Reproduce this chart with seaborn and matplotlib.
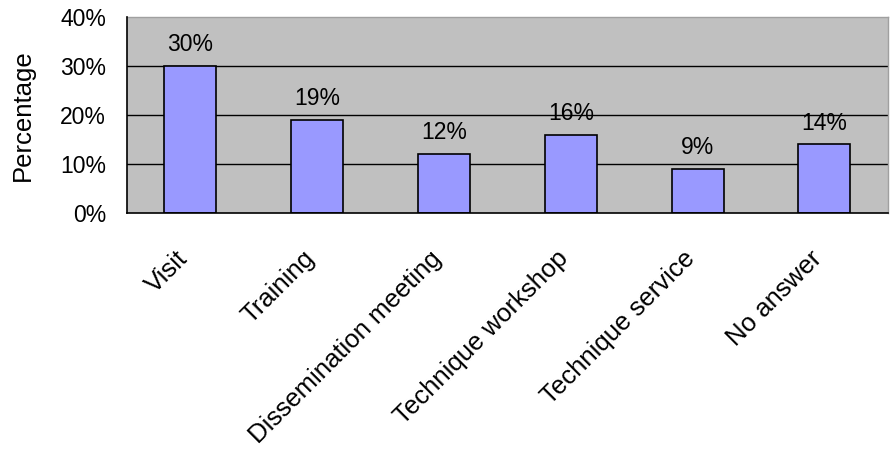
import matplotlib
matplotlib.use("Agg")
import matplotlib.pyplot as plt
import matplotlib.transforms as mtransforms
import seaborn as sns
import pandas as pd
from matplotlib.ticker import FixedLocator

categories = ["Visit", "Training", "Dissemination meeting",
              "Technique workshop", "Technique service", "No answer"]
percentages = [30, 19, 12, 16, 9, 14]
y_ticks = [0, 10, 20, 30, 40]
y_tick_labels = ["0%", "10%", "20%", "30%", "40%"]

df = pd.DataFrame({"category": categories, "pct": percentages})

sns.set_style("white")
plt.rcParams["font.family"] = ["Liberation Sans", "DejaVu Sans"]
plt.rcParams["text.color"] = "black"
plt.rcParams["axes.labelcolor"] = "black"
plt.rcParams["xtick.color"] = "black"
plt.rcParams["ytick.color"] = "black"

fig = plt.figure(figsize=(8.91, 4.55), dpi=100)
ax = fig.add_axes([0.1425, 0.532, 0.854, 0.4305])
ax.set_facecolor("#C0C0C0")

sns.barplot(data=df, x="category", y="pct", color="#9999FF", saturation=1,
            width=0.41, edgecolor="black", linewidth=1.2, ax=ax, zorder=3)

ax.set_ylim(0, 40)
ax.set_xlim(-0.5, len(categories) - 0.5)
ax.set_yticks(y_ticks)
ax.set_yticklabels(y_tick_labels, fontsize=16.5)
for y in y_ticks[1:-1]:
    ax.axhline(y, color="black", linewidth=1, zorder=1)

for i, v in enumerate(percentages):
    ax.annotate(f"{v}%", xy=(i, v), xytext=(0, 7), textcoords="offset points",
                ha="center", va="bottom", fontsize=16.5, zorder=4)

ax.set_xticks(range(len(categories)))
ax.set_xticklabels(categories, rotation=45, ha="right", rotation_mode="anchor",
                   fontsize=18.5)
ax.tick_params(axis="x", which="major", length=0, pad=24)
# nudge the slanted category names a little to the left of their slots
shift = mtransforms.ScaledTranslation(-15 / 100, 0, fig.dpi_scale_trans)
for lbl in ax.get_xticklabels():
    lbl.set_transform(lbl.get_transform() + shift)
ax.xaxis.set_minor_locator(FixedLocator([k + 0.5 for k in range(len(categories) - 1)]))
ax.tick_params(axis="x", which="minor", direction="in", length=5, width=1, color="black")
ax.tick_params(axis="y", length=0, pad=15)

ax.set_xlabel("")
ax.set_ylabel("Percentage", fontsize=18.5, labelpad=18)

for side in ("left", "bottom"):
    ax.spines[side].set_color("black")
    ax.spines[side].set_linewidth(1.2)
    ax.spines[side].set_zorder(5)
for side in ("top", "right"):
    ax.spines[side].set_color("#A0A0A0")
    ax.spines[side].set_linewidth(1)

fig.savefig("out.png", dpi=100)
